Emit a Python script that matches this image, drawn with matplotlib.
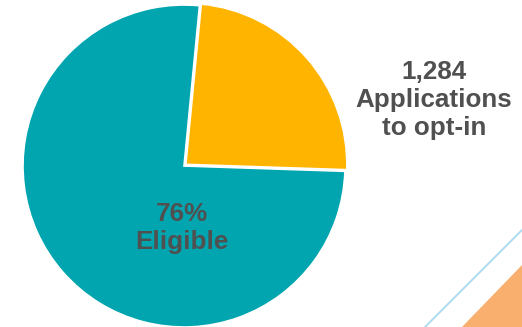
import matplotlib
matplotlib.use("Agg")
import matplotlib.pyplot as plt
from matplotlib.patches import Polygon
from matplotlib.lines import Line2D

# Share of applications
categories = ["Applications to opt-in", "Eligible"]
shares = [24, 76]
applications_count = 1284
colors = ["#FFB500", "#00A5B0"]
text_color = "#505050"

plt.rcParams["font.family"] = ["Liberation Sans", "DejaVu Sans"]

W, H = 522, 327
fig = plt.figure(figsize=(W / 100, H / 100), dpi=100)
ax = fig.add_axes([0, 0, 1, 1])
ax.set_xlim(0, W)
ax.set_ylim(0, H)
ax.set_aspect("equal")
ax.axis("off")

# Decorative accents in the lower-right corner
ax.add_patch(Polygon([[462, 0], [W, 62], [W, 0]], closed=True,
                     facecolor="#F9AF6E", edgecolor="none"))
ax.add_line(Line2D([425, W], [0, 97], color="#A9DAF2", linewidth=1.3))

cx, cy, r = 184, 161, 161
wedges, _ = ax.pie(shares, colors=colors, startangle=84.5, counterclock=False,
                   center=(cx, cy), radius=r, explode=[2.5, 0],
                   wedgeprops=dict(edgecolor="white", linewidth=1.2))
ax.set_xlim(0, W)
ax.set_ylim(0, H)

ax.text(182, 99, f"{shares[1]}%\nEligible", ha="center", va="center",
        fontsize=18.7, fontweight="bold", color=text_color, linespacing=1.22)
ax.text(434, 227, f"{applications_count:,}\nApplications\nto opt-in",
        ha="center", va="center", fontsize=18.7, fontweight="bold",
        color=text_color, linespacing=1.22)

fig.savefig("out.png", dpi=100)
